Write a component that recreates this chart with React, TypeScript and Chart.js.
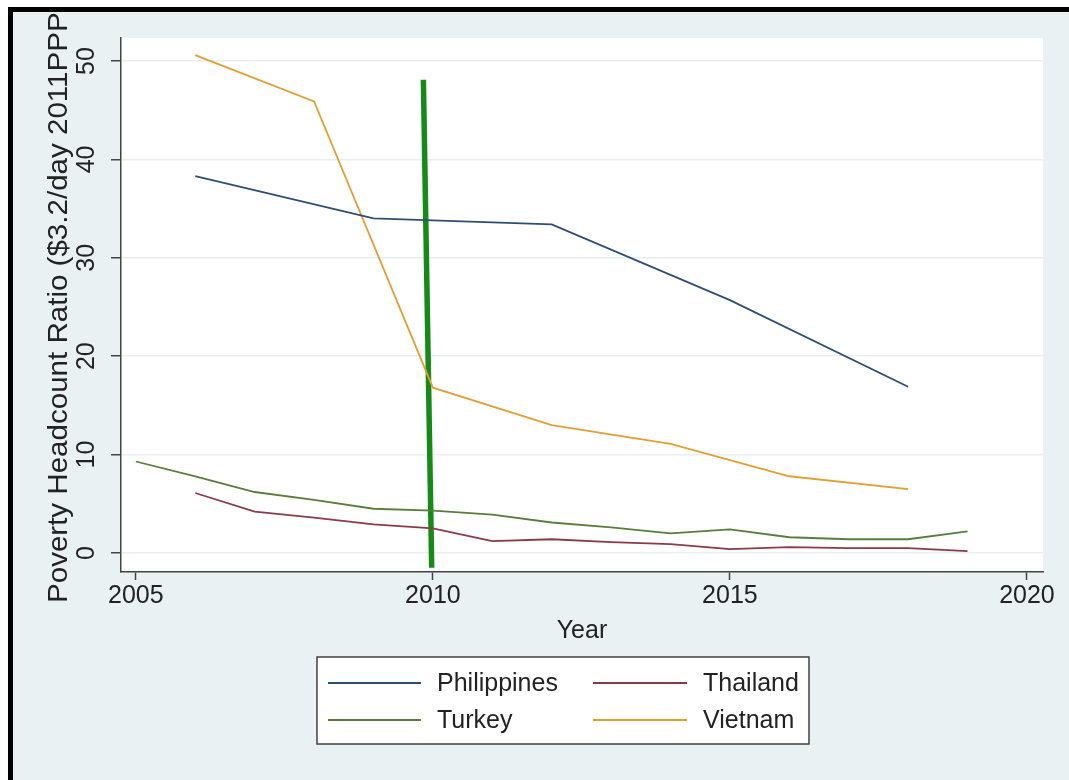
import React, { useEffect, useRef } from "react";
import { Chart, registerables } from "chart.js";

Chart.register(...registerables);

// ---- data ----
const philippinesYears = [2006, 2009, 2012, 2015, 2018];
const philippinesValues = [38.3, 34.0, 33.4, 25.7, 16.9];

const thailandYears = [2006, 2007, 2008, 2009, 2010, 2011, 2012, 2013, 2014, 2015, 2016, 2017, 2018, 2019];
const thailandValues = [6.1, 4.2, 3.6, 2.9, 2.5, 1.2, 1.4, 1.1, 0.9, 0.4, 0.6, 0.5, 0.5, 0.2];

const turkeyYears = [2005, 2006, 2007, 2008, 2009, 2010, 2011, 2012, 2013, 2014, 2015, 2016, 2017, 2018, 2019];
const turkeyValues = [9.3, 7.8, 6.2, 5.4, 4.5, 4.3, 3.9, 3.1, 2.6, 2.0, 2.4, 1.6, 1.4, 1.4, 2.2];

const vietnamYears = [2006, 2008, 2010, 2012, 2014, 2016, 2018];
const vietnamValues = [50.6, 45.9, 16.8, 13.0, 11.1, 7.8, 6.5];

const markerYears = [2009.84, 2009.98];
const markerValues = [48.1, -1.5];

const seriesNames = ["Philippines", "Thailand", "Turkey", "Vietnam"];
const seriesColors = ["#2d4f76", "#8c3a4b", "#5a7d3c", "#e39e34"];

const xTicks = [2005, 2010, 2015, 2020];
const yTicks = [0, 10, 20, 30, 40, 50];

const xTitle = "Year";
const yTitle = "Poverty Headcount Ratio ($3.2/day 2011PPP)";

const W = 1069;
const H = 780;
const FONT = "Liberation Sans, Arial, Helvetica, sans-serif";
const BG = "#eaf1f3";

const pts = (xs: number[], ys: number[]) => xs.map((x, i) => ({ x, y: ys[i] }));

const framePlugin = {
  id: "stataFrame",
  beforeDraw(chart: any) {
    const { ctx, chartArea } = chart;
    ctx.save();
    ctx.fillStyle = "#ffffff";
    ctx.fillRect(0, 0, W, H);
    ctx.fillStyle = BG;
    ctx.fillRect(8, 7, W - 8, H - 7);
    ctx.fillStyle = "#ffffff";
    ctx.fillRect(chartArea.left, chartArea.top, chartArea.right - chartArea.left, chartArea.bottom - chartArea.top);
    ctx.restore();
  },
  afterDraw(chart: any) {
    const { ctx } = chart;
    // y axis title (overflows and gets clipped by the frame, like the reference)
    ctx.save();
    ctx.beginPath();
    ctx.rect(13, 12, W - 13, H - 12);
    ctx.clip();
    ctx.translate(67, 603);
    ctx.rotate(-Math.PI / 2);
    ctx.scale(1.055, 1);
    ctx.font = `28px ${FONT}`;
    ctx.fillStyle = "#222222";
    ctx.textAlign = "left";
    ctx.textBaseline = "alphabetic";
    ctx.fillText(yTitle, 0, 0);
    ctx.restore();

    // legend
    ctx.save();
    const bx = 317, by = 657, bw = 492, bh = 87;
    ctx.fillStyle = "#ffffff";
    ctx.fillRect(bx, by, bw, bh);
    ctx.strokeStyle = "#404040";
    ctx.lineWidth = 1.5;
    ctx.strokeRect(bx, by, bw, bh);
    const cols = [
      { lx0: 328, lx1: 421, tx: 437 },
      { lx0: 593, lx1: 687, tx: 703 },
    ];
    const rows = [683, 720];
    ctx.font = `25px ${FONT}`;
    ctx.textBaseline = "middle";
    ctx.textAlign = "left";
    for (let i = 0; i < 4; i++) {
      const ds = chart.data.datasets[i];
      const c = cols[i % 2];
      const r = rows[Math.floor(i / 2)];
      ctx.strokeStyle = ds.borderColor;
      ctx.lineWidth = 1.8;
      ctx.beginPath();
      ctx.moveTo(c.lx0, r);
      ctx.lineTo(c.lx1, r);
      ctx.stroke();
      ctx.fillStyle = "#222222";
      ctx.fillText(ds.label, c.tx, r + 1);
    }
    ctx.restore();

    // black frame (top and left)
    ctx.save();
    ctx.fillStyle = "#000000";
    ctx.fillRect(8, 7, W - 8, 5);
    ctx.fillRect(8, 7, 5, H - 7);
    ctx.restore();
  },
};

export default function App() {
  const canvasRef = useRef<HTMLCanvasElement | null>(null);

  useEffect(() => {
    const canvas = canvasRef.current;
    if (!canvas) return;
    const line = (label: string, data: any[], color: string, width = 1.8) => ({
      label,
      data,
      borderColor: color,
      backgroundColor: color,
      borderWidth: width,
      pointRadius: 0,
      tension: 0,
      fill: false,
    });
    const chart = new Chart(canvas, {
      type: "line",
      data: {
        datasets: [
          line(seriesNames[0], pts(philippinesYears, philippinesValues), seriesColors[0]),
          line(seriesNames[1], pts(thailandYears, thailandValues), seriesColors[1]),
          line(seriesNames[2], pts(turkeyYears, turkeyValues), seriesColors[2]),
          line(seriesNames[3], pts(vietnamYears, vietnamValues), seriesColors[3]),
          line("marker", pts(markerYears, markerValues), "#168a16", 5.5),
        ],
      },
      options: {
        responsive: false,
        animation: false,
        devicePixelRatio: 1,
        layout: { padding: { top: 38, right: 26, left: 0, bottom: 0 } },
        plugins: {
          legend: { display: false },
          tooltip: { enabled: false },
        },
        scales: {
          x: {
            type: "linear",
            min: 2004.75,
            max: 2020.27,
            afterFit: (s: any) => {
              s.height = 208;
            },
            afterBuildTicks: (s: any) => {
              s.ticks = xTicks.map((v) => ({ value: v }));
            },
            grid: {
              drawOnChartArea: false,
              drawTicks: true,
              tickLength: 8,
              tickColor: "#444444",
              tickWidth: 1.5,
            },
            border: { display: true, color: "#444444", width: 1.5 },
            ticks: {
              font: { family: FONT, size: 25 },
              color: "#222222",
              padding: 1,
              maxRotation: 0,
              autoSkip: false,
              callback: (v: any) => String(v),
            },
            title: {
              display: true,
              text: xTitle,
              font: { family: FONT, size: 25 },
              color: "#222222",
              padding: { top: 0, bottom: 134 },
            },
          },
          y: {
            type: "linear",
            min: -1.93,
            max: 52.34,
            afterFit: (s: any) => {
              s.width = 121;
            },
            afterBuildTicks: (s: any) => {
              s.ticks = yTicks.map((v) => ({ value: v }));
            },
            grid: {
              drawOnChartArea: true,
              color: "#e8eff1",
              lineWidth: 1.5,
              drawTicks: true,
              tickLength: 10,
              tickColor: "#444444",
              tickWidth: 1.5,
            },
            border: { display: true, color: "#444444", width: 1.5 },
            ticks: {
              font: { family: FONT, size: 25 },
              color: "#222222",
              minRotation: 90,
              maxRotation: 90,
              crossAlign: "center",
              padding: 10,
              autoSkip: false,
              callback: (v: any) => String(v),
            },
          },
        },
      },
      plugins: [framePlugin],
    } as any);
    return () => chart.destroy();
  }, []);

  return (
    <div style={{ position: "fixed", left: 0, top: 0, width: W, height: H, background: "#ffffff" }}>
      <canvas ref={canvasRef} width={W} height={H} style={{ display: "block", width: W, height: H }} />
    </div>
  );
}
